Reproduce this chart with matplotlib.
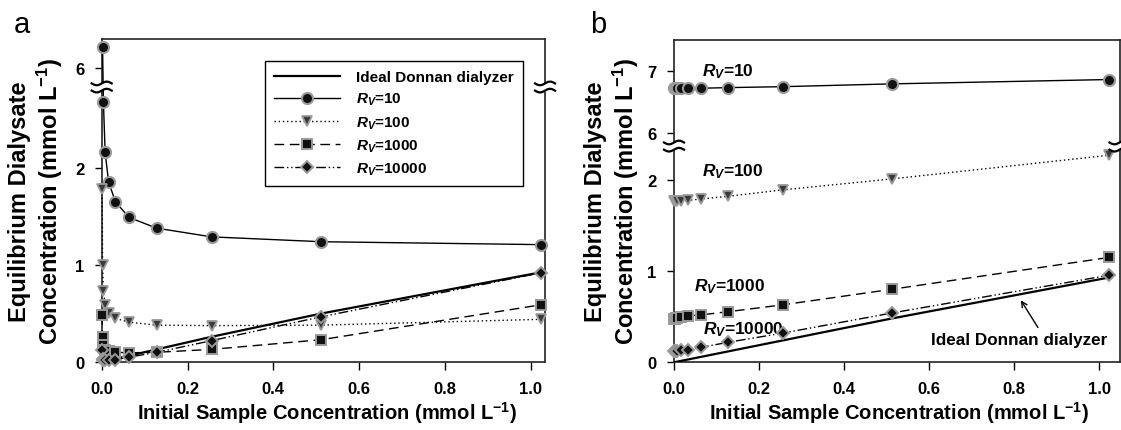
import numpy as np
import matplotlib
matplotlib.use("Agg")
import matplotlib.pyplot as plt

plt.rcParams['font.family'] = ['Liberation Sans', 'DejaVu Sans']
plt.rcParams['font.weight'] = 'bold'
plt.rcParams['mathtext.fontset'] = 'custom'
plt.rcParams['mathtext.rm'] = 'Liberation Sans:bold'
plt.rcParams['mathtext.bf'] = 'Liberation Sans:bold'
plt.rcParams['mathtext.it'] = 'Liberation Sans:italic:bold'

# ---------------- data ----------------
x_all = [0.001, 0.002, 0.004, 0.008, 0.016, 0.032, 0.064, 0.128, 0.256, 0.512, 1.024]
x_r10_a = [0.002, 0.004, 0.008, 0.016, 0.032, 0.064, 0.128, 0.256, 0.512, 1.024]

ideal_x = [0.0, 0.256, 0.512, 1.024]
ideal_a = [0.0, 0.26, 0.50, 0.925]
ideal_b = [0.0, 0.24, 0.48, 0.93]

# panel a
a_r10 = [6.22, 2.68, 2.16, 1.86, 1.65, 1.49, 1.38, 1.29, 1.24, 1.21]
a_r100 = [1.78, 1.00, 0.735, 0.59, 0.51, 0.45, 0.41, 0.38, 0.375, 0.38, 0.44]
a_r1000 = [0.485, 0.255, 0.175, 0.125, 0.11, 0.10, 0.095, 0.10, 0.13, 0.23, 0.59]
a_r10000 = [0.12, 0.03, 0.02, 0.02, 0.022, 0.025, 0.05, 0.10, 0.22, 0.467, 0.92]

# panel b
b_r10 = [6.72, 6.72, 6.72, 6.72, 6.72, 6.72, 6.72, 6.73, 6.745, 6.79, 6.86]
b_r100 = [1.765, 1.765, 1.765, 1.77, 1.77, 1.775, 1.79, 1.82, 1.89, 2.01, 2.27]
b_r1000 = [0.48, 0.48, 0.485, 0.49, 0.50, 0.51, 0.52, 0.555, 0.63, 0.80, 1.15]
b_r10000 = [0.12, 0.12, 0.125, 0.127, 0.13, 0.138, 0.164, 0.22, 0.32, 0.54, 0.955]

xticks = [0.0, 0.2, 0.4, 0.6, 0.8, 1.0]
xticklabels = ['0.0', '0.2', '0.4', '0.6', '0.8', '1.0']
yticks_a = [0, 1, 2, 6]
yticks_b = [0, 1, 2, 6, 7]

labels = ['Ideal Donnan dialyzer', '$R_V$=10', '$R_V$=100', '$R_V$=1000', '$R_V$=10000']

# ---------------- helpers ----------------
def broken_scale(b1, b2, k):
    xp = np.array([-1e4, b1, b2, 1e4])
    fp = np.array([-1e4, b1, b1 + 1e-9, b1 + 1e-9 + (1e4 - b2) * k])
    def fwd(y):
        return np.interp(np.asarray(y, dtype=float), xp, fp)
    def inv(z):
        return np.interp(np.asarray(z, dtype=float), fp, xp)
    return fwd, inv

EDGE = '#9a9a9a'
styles = {
    'ideal': dict(color='black', lw=1.6, ls='-'),
    'r10': dict(color='black', lw=1.0, ls='-', marker='o', ms=8, mfc='#111111', mec=EDGE, mew=1.5),
    'r100': dict(color='black', lw=1.0, ls=(0, (1, 2)), marker='v', ms=7.5, mfc='#3a3a3a', mec=EDGE, mew=1.3),
    'r1000': dict(color='black', lw=1.0, ls=(0, (7, 4)), marker='s', ms=6.5, mfc='#111111', mec=EDGE, mew=1.4),
    'r10000': dict(color='black', lw=1.0, ls=(0, (7, 2, 1, 2, 1, 2)), marker='D', ms=5.8, mfc='#111111', mec=EDGE, mew=1.4),
}

def style_axes(ax, xlim, ylim, yticks):
    ax.set_xlim(*xlim)
    ax.set_ylim(*ylim)
    ax.set_xticks(xticks)
    ax.set_xticklabels(xticklabels)
    ax.set_yticks(yticks)
    ax.set_yticklabels([str(t) for t in yticks])
    ax.tick_params(axis='x', direction='out', length=6, width=1, labelsize=12, pad=7.5)
    ax.tick_params(axis='y', direction='out', length=5, width=1, labelsize=12, pad=7.5)
    ax.tick_params(top=False, right=False)
    ax.minorticks_off()
    for s in ax.spines.values():
        s.set_linewidth(1.2)
        s.set_color('#222222')

def draw_break(ax, yfrac, xfrac):
    bb = ax.get_window_extent()
    W, H = bb.width, bb.height
    t = np.linspace(-1, 1, 60)
    xs = xfrac + t * 10.0 / W
    wave = 1.8 * np.sin(np.pi * t * 1.0)
    y_top = yfrac + (3.6 + wave) / H
    y_bot = yfrac + (-3.6 + wave) / H
    ax.fill_between(xs, y_bot, y_top, transform=ax.transAxes, color='white',
                    clip_on=False, zorder=10, lw=0)
    ax.plot(xs, y_top, transform=ax.transAxes, color='black', lw=1.6, clip_on=False, zorder=11)
    ax.plot(xs, y_bot, transform=ax.transAxes, color='black', lw=1.6, clip_on=False, zorder=11)

# ---------------- figure ----------------
FW, FH = 1121, 431
fig = plt.figure(figsize=(FW / 100, FH / 100), dpi=100)

# panel a
ax_a = fig.add_axes([101.7 / FW, (FH - 363) / FH, (545 - 101.7) / FW, (363 - 40) / FH])
fa, ia = broken_scale(2.835, 5.807, 1.0)
ax_a.set_yscale('function', functions=(fa, ia))
h0, = ax_a.plot(ideal_x, ideal_a, **styles['ideal'], zorder=3)
h1, = ax_a.plot(x_r10_a, a_r10, **styles['r10'], zorder=4)
h2, = ax_a.plot(x_all, a_r100, **styles['r100'], zorder=4)
h3, = ax_a.plot(x_all, a_r1000, **styles['r1000'], zorder=4)
h4, = ax_a.plot(x_all, a_r10000, **styles['r10000'], zorder=4)
for h in (h1, h2, h3, h4):
    h.set_clip_on(False)
style_axes(ax_a, (0, 1.033), (0, 6.302), yticks_a)

leg = ax_a.legend([h0, h1, h2, h3, h4], labels, loc='upper right',
                  bbox_to_anchor=(0.950, 0.932), borderaxespad=0,
                  fontsize=11, frameon=True, fancybox=False, framealpha=1,
                  edgecolor='black', handlelength=4.3, handletextpad=1.05,
                  labelspacing=0.45, borderpad=0.6, numpoints=1)
leg.get_frame().set_linewidth(1.0)

# panel b
ax_b = fig.add_axes([674 / FW, (FH - 363.3) / FH, (1119.5 - 674) / FW, (363.3 - 40.7) / FH])
fb, ib = broken_scale(2.37, 5.79, 0.682)
ax_b.set_yscale('function', functions=(fb, ib))
ax_b.plot(ideal_x, ideal_b, **styles['ideal'], zorder=3)
for yv, key in ((b_r10, 'r10'), (b_r100, 'r100'), (b_r1000, 'r1000'), (b_r10000, 'r10000')):
    ln, = ax_b.plot(x_all, yv, **styles[key], zorder=4)
    ln.set_clip_on(False)
style_axes(ax_b, (0, 1.048), (0, 7.5), yticks_b)

ax_b.text(0.065, 7.0, '$R_V$=10', fontsize=12.5, ha='left', va='center')
ax_b.text(0.065, 2.10, '$R_V$=100', fontsize=12.5, ha='left', va='center')
ax_b.text(0.047, 0.84, '$R_V$=1000', fontsize=12.5, ha='left', va='center')
ax_b.text(0.068, 0.365, '$R_V$=10000', fontsize=12.5, ha='left', va='center')
ax_b.annotate('Ideal Donnan dialyzer', xy=(0.816, 0.68), xytext=(0.605, 0.255),
              fontsize=12.3, ha='left', va='center',
              arrowprops=dict(arrowstyle='->', color='black', lw=1.0,
                              relpos=(0.62, 1.0), shrinkA=1, shrinkB=0,
                              mutation_scale=10))

fig.canvas.draw()
# break marks
for ax, fwd, b1, top in ((ax_a, fa, 2.835, 6.302), (ax_b, fb, 2.37, 7.5)):
    yfrac = float(fwd(np.array([b1]))[0]) / float(fwd(np.array([top]))[0])
    draw_break(ax, yfrac, 0.0)
    draw_break(ax, yfrac, 1.0)

# axis labels
ylab = 'Equilibrium Dialysate\nConcentration (mmol L$^{-1}$)'
xlab = 'Initial Sample Concentration (mmol L$^{-1}$)'
fig.text(36.7 / FW, (FH - 201.5) / FH, ylab, rotation=90, ha='center', va='center',
         fontsize=17, multialignment='center', linespacing=1.15)
fig.text(612.8 / FW, (FH - 201.5) / FH, ylab, rotation=90, ha='center', va='center',
         fontsize=17, multialignment='center', linespacing=1.15)
fig.text(326.7 / FW, (FH - 413) / FH, xlab, ha='center', va='center', fontsize=14.5)
fig.text(898.6 / FW, (FH - 413) / FH, xlab, ha='center', va='center', fontsize=14.5)

# panel letters
fig.text(14 / FW, (FH - 33) / FH, 'a', fontsize=21, fontweight='normal', ha='left', va='baseline')
fig.text(590 / FW, (FH - 33) / FH, 'b', fontsize=21, fontweight='normal', ha='left', va='baseline')

fig.savefig('out.png', dpi=100, facecolor='white')
